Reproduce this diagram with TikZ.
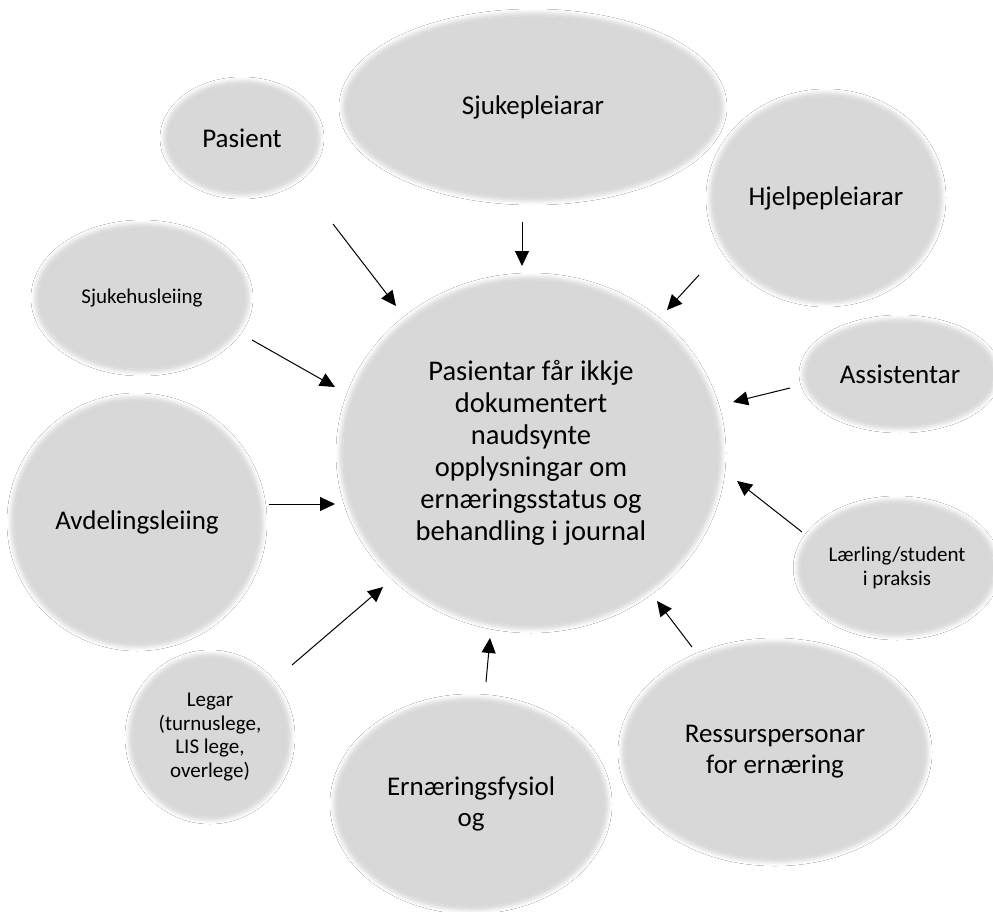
\documentclass[tikz,border=0pt]{standalone}
\usepackage{fontspec}
\setmainfont{Carlito}
\usetikzlibrary{shapes.geometric,arrows.meta,shadows.blur}
\definecolor{blobfill}{HTML}{D8D8D8}
\definecolor{blobedge}{HTML}{E2E2E2}
\begin{document}
\begin{tikzpicture}[x=1pt,y=-1pt,
  blob/.style={ellipse, fill=blobfill, draw=blobedge, line width=0.6pt, inner sep=0pt, align=center, text=black,
    blur shadow={shadow xshift=0pt, shadow yshift=0pt, shadow blur radius=7pt, shadow opacity=32, shadow blur steps=16}},
  big/.style={font=\fontsize{27}{31}\selectfont},
  small/.style={font=\fontsize{21}{23.5}\selectfont},
  arr/.style={-{Triangle[length=15pt,width=14pt]}, line width=1pt, black}]
\fill[white] (0,0) rectangle (993,912);
\useasboundingbox (0,0) rectangle (993,912);

% ellipses
\node[blob, big, minimum width=150pt, minimum height=108pt] (pas) at (242,138) {Pasient};
\node[blob, big, minimum width=374pt, minimum height=182pt] (sjp) at (533,107) {Sjukepleiarar};
\node[blob, big, minimum width=226pt, minimum height=204pt] (hjp) at (826,198) {Hjelpepleiarar};
\node[blob, small, minimum width=208pt, minimum height=142pt] (sjh) at (142,298) {Sjukehusleiing};
\node[blob, minimum width=376pt, minimum height=346pt, font=\fontsize{28.5}{32}\selectfont] (ctr) at (531,453)
  {Pasientar får ikkje\\dokumentert\\naudsynte\\opplysningar om\\ernæringsstatus og\\behandling i journal};
\node[blob, big, minimum width=188pt, minimum height=104pt] (ass) at (900,374) {Assistentar};
\node[blob, big, minimum width=246pt, minimum height=244pt] (avd) at (137,522) {Avdelingsleiing};
\node[blob, small, minimum width=192pt, minimum height=130pt] (lar) at (897,568) {Lærling/student\\i praksis};
\node[blob, small, minimum width=156pt, minimum height=160pt] (leg) at (210,737) {Legar\\(turnuslege,\\LIS lege,\\overlege)};
\node[blob, big, minimum width=268pt, minimum height=206pt] (ern) at (471,804) {Ernæringsfysiol\\og};
\node[blob, big, minimum width=300pt, minimum height=214pt] (res) at (775,752) {Ressurspersonar\\for ernæring};

% arrow end points
\coordinate (a1s) at (333,224); \coordinate (a1e) at (396,306);
\coordinate (a2s) at (522,222); \coordinate (a2e) at (522,266);
\coordinate (a3s) at (699,275); \coordinate (a3e) at (667,310);
\coordinate (a4s) at (790,388); \coordinate (a4e) at (733,402);
\coordinate (a5s) at (802,532); \coordinate (a5e) at (737,481);
\coordinate (a6s) at (692,647); \coordinate (a6e) at (657,601);
\coordinate (a7s) at (486,682); \coordinate (a7e) at (490,638);
\coordinate (a8s) at (292,665); \coordinate (a8e) at (383,587);
\coordinate (a9s) at (269,504); \coordinate (a9e) at (335,504);
\coordinate (a10s) at (252,340); \coordinate (a10e) at (335,387);

\foreach \i in {1,...,10} \draw[arr] (a\i s) -- (a\i e);
\end{tikzpicture}
\end{document}
